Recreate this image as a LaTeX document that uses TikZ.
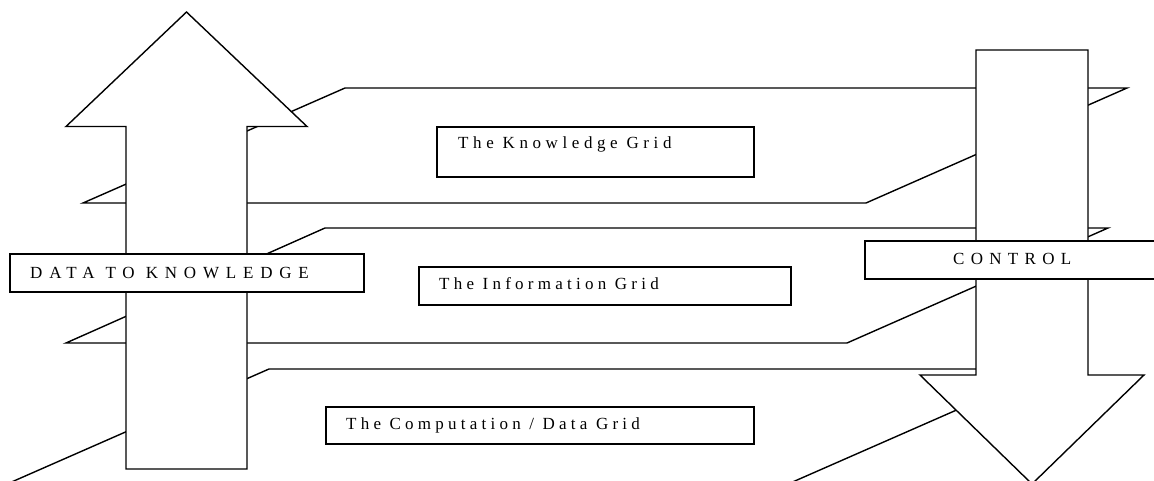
\documentclass[tikz,border=0pt]{standalone}
\usepackage{fontspec}
\setmainfont{Liberation Serif}
\begin{document}
\begin{tikzpicture}[x=1pt,y=-1pt,
  outline/.style={draw=black,line width=1.4pt,line join=miter},
  plane/.style={outline,fill=white},
  bigarrow/.style={outline,fill=white},
  labelbox/.style={outline,fill=white,rectangle,inner sep=0pt},
  lbl/.style={anchor=west,inner sep=0pt,font=\fontsize{17}{20}\selectfont}]
\clip (0,0) rectangle (1154,480);

% grid layers, drawn as slanted planes from top to bottom
\coordinate (k1) at (345,88);   \coordinate (k2) at (1127,88);
\coordinate (k3) at (866,203);  \coordinate (k4) at (83,203);
\coordinate (i1) at (325,228);  \coordinate (i2) at (1108,228);
\coordinate (i3) at (847,343);  \coordinate (i4) at (66,343);
\coordinate (c1) at (269,369);  \coordinate (c2) at (1050,369);
\coordinate (c3) at (788,484);  \coordinate (c4) at (7,484);
\draw[plane] (k1) -- (k2) -- (k3) -- (k4) -- cycle;
\draw[plane] (i1) -- (i2) -- (i3) -- (i4) -- cycle;
\draw[plane] (c1) -- (c2) -- (c3) -- (c4) -- cycle;

% upward arrow: data to knowledge
\coordinate (ua1) at (126,469);  \coordinate (ua2) at (126,126.5);
\coordinate (ua3) at (66,126.5); \coordinate (ua4) at (186.5,12);
\coordinate (ua5) at (307,126.5);\coordinate (ua6) at (247,126.5);
\coordinate (ua7) at (247,469);
\draw[bigarrow] (ua1) -- (ua2) -- (ua3) -- (ua4) -- (ua5) -- (ua6) -- (ua7) -- cycle;

% downward arrow: control
\coordinate (da1) at (976,50);   \coordinate (da2) at (1088,50);
\coordinate (da3) at (1088,375); \coordinate (da4) at (1144,375);
\coordinate (da5) at (1032,484); \coordinate (da6) at (920,375);
\coordinate (da7) at (976,375);
\draw[bigarrow] (da1) -- (da2) -- (da3) -- (da4) -- (da5) -- (da6) -- (da7) -- cycle;

% layer labels
\node[labelbox,minimum width=317pt,minimum height=50pt] (kbox) at (595.5,152) {};
\node[lbl] (ktext) at (458,144) {\addfontfeature{LetterSpace=27}The Knowledge Grid};

\node[labelbox,minimum width=372pt,minimum height=38pt] (ibox) at (605,286) {};
\node[lbl] (itext) at (439,284) {\addfontfeature{LetterSpace=25}The Information Grid};

\node[labelbox,minimum width=428pt,minimum height=37pt] (cbox) at (540,425.5) {};
\node[lbl] (ctext) at (346,425) {\addfontfeature{LetterSpace=25}The Computation / Data Grid};

% arrow captions
\node[labelbox,minimum width=354pt,minimum height=38pt] (dbox) at (187,273) {};
\node[lbl] (dtext) at (30,273) {\addfontfeature{LetterSpace=40}DATA TO KNOWLEDGE};

\node[labelbox,minimum width=295pt,minimum height=38pt] (ctlbox) at (1012.5,260) {};
\node[lbl] (ctltext) at (953,259) {\addfontfeature{LetterSpace=37}CONTROL};
\end{tikzpicture}
\end{document}
